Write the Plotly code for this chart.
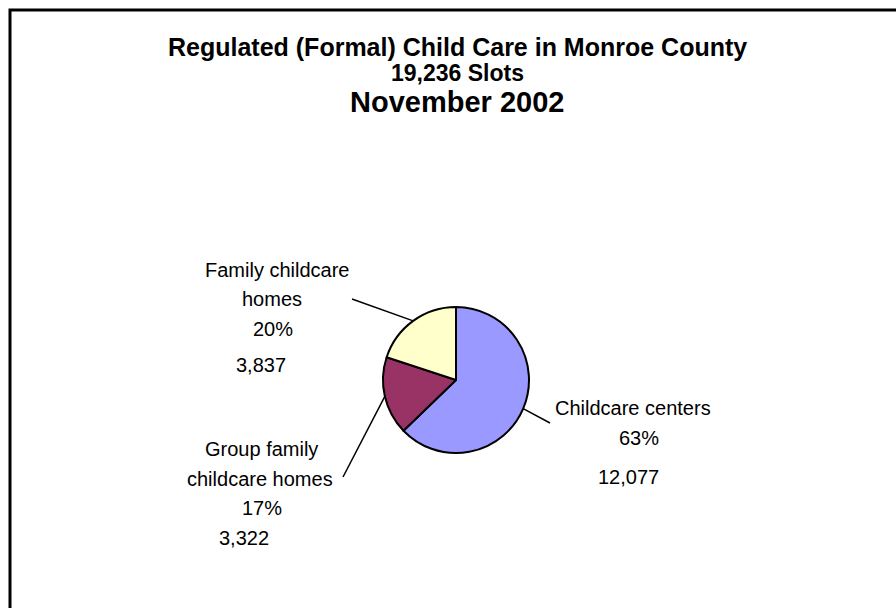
import math
import plotly.graph_objects as go

# ---- data ----
categories = ["Childcare centers", "Group family<br>childcare homes", "Family childcare<br>homes"]
slots = [12077, 3322, 3837]
percent_labels = ["63%", "17%", "20%"]
count_labels = ["12,077", "3,322", "3,837"]
colors = ["#9999FF", "#993366", "#FFFFCC"]
title_lines = ["Regulated (Formal) Child Care in Monroe County", "19,236 Slots", "November 2002"]

W, H = 896, 608
FONT = "Arial, Liberation Sans, sans-serif"

def px(x):
    return x / W

def py(y):
    return 1 - y / H

# pie geometry in pixels
cx, cy, r = 456, 380, 73

fig = go.Figure(go.Pie(
    labels=categories,
    values=slots,
    marker=dict(colors=colors, line=dict(color="black", width=2)),
    sort=False,
    direction="clockwise",
    rotation=0,
    textinfo="none",
    hoverinfo="label+value+percent",
    showlegend=False,
    domain=dict(x=[px(cx - r), px(cx + r)], y=[py(cy + r), py(cy - r)]),
))

annotations = []
# title
title_pos = [(47, 25), (73, 23), (102, 29)]
for text, (y, size) in zip(title_lines, title_pos):
    annotations.append(dict(text=f"<b>{text}</b>", x=px(457), y=py(y), xref="paper", yref="paper",
                            showarrow=False, xanchor="center", yanchor="middle",
                            font=dict(family=FONT, size=size, color="black")))

LS = 20
label_layout = [
    dict(nx=[633], ny=[408], pxx=639, pyy=438, cxx=628, cyy=477, end=(550, 423)),
    dict(nx=[261, 260], ny=[449, 479], pxx=262, pyy=508, cxx=244, cyy=538, end=(343, 477)),
    dict(nx=[277, 272], ny=[270, 299], pxx=273, pyy=329, cxx=261, cyy=365, end=(352, 299)),
]
total = sum(slots)
start = 0.0
for i, v in enumerate(slots):
    frac = v / total
    mid = (start + frac / 2) * 2 * math.pi
    start += frac
    # point on pie edge at slice mid-angle (clockwise from 12 o'clock)
    ex = cx + r * math.sin(mid)
    ey = cy - r * math.cos(mid)
    L = label_layout[i]
    for line_text, lx, ly in zip(categories[i].split("<br>"), L["nx"], L["ny"]):
        annotations.append(dict(text=line_text, x=px(lx), y=py(ly), xref="paper", yref="paper",
                                showarrow=False, xanchor="center", yanchor="middle",
                                font=dict(family=FONT, size=LS, color="black")))
    annotations.append(dict(text=percent_labels[i], x=px(L["pxx"]), y=py(L["pyy"]), xref="paper", yref="paper",
                            showarrow=False, xanchor="center", yanchor="middle",
                            font=dict(family=FONT, size=LS, color="black")))
    annotations.append(dict(text=count_labels[i], x=px(L["cxx"]), y=py(L["cyy"]), xref="paper", yref="paper",
                            showarrow=False, xanchor="center", yanchor="middle",
                            font=dict(family=FONT, size=LS, color="black")))
    fig.add_shape(type="line", xref="paper", yref="paper",
                  x0=px(ex), y0=py(ey), x1=px(L["end"][0]), y1=py(L["end"][1]),
                  line=dict(color="black", width=1.5))

# outer frame (open at right and bottom, cropped)
fig.add_shape(type="rect", xref="paper", yref="paper",
              x0=px(10), y0=py(H + 20), x1=px(W + 20), y1=py(10),
              line=dict(color="black", width=3), fillcolor="rgba(0,0,0,0)")

fig.update_layout(
    width=W, height=H,
    margin=dict(l=0, r=0, t=0, b=0),
    paper_bgcolor="white", plot_bgcolor="white",
    annotations=annotations,
)

fig.write_html("out.html")
